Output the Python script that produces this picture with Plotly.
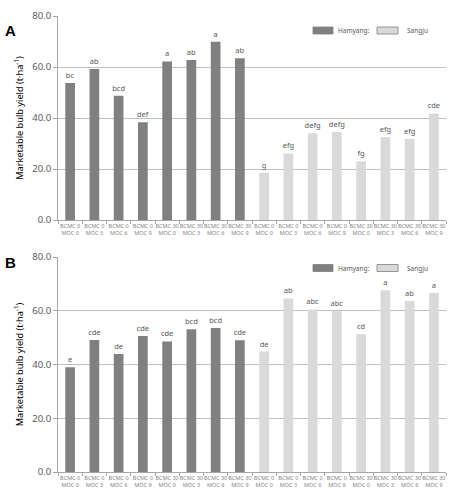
import plotly.graph_objects as go

categories = ["BCMC 0<br>MOC 0", "BCMC 0<br>MOC 3", "BCMC 0<br>MOC 6", "BCMC 0<br>MOC 9",
              "BCMC 30<br>MOC 0", "BCMC 30<br>MOC 3", "BCMC 30<br>MOC 6", "BCMC 30<br>MOC 9"]
ham_x = [f"H{i}" for i in range(8)]
san_x = [f"S{i}" for i in range(8)]
tick_vals = ham_x + san_x
tick_text = categories + categories

a_hamyang = [53.7, 59.2, 48.7, 38.3, 62.2, 62.7, 69.9, 63.4]
a_sangju = [18.5, 26.1, 34.0, 34.5, 23.0, 32.5, 31.8, 41.8]
a_ham_lbl = ["bc", "ab", "bcd", "def", "a", "ab", "a", "ab"]
a_san_lbl = ["g", "efg", "defg", "defg", "fg", "efg", "efg", "cde"]

b_hamyang = [39.0, 49.1, 43.9, 50.6, 48.6, 53.1, 53.6, 49.0]
b_sangju = [44.8, 64.6, 60.5, 59.8, 51.3, 67.6, 63.6, 66.6]
b_ham_lbl = ["e", "cde", "de", "cde", "cde", "bcd", "bcd", "cde"]
b_san_lbl = ["de", "ab", "abc", "abc", "cd", "a", "ab", "a"]

series_names = ["Hamyang:", "Sangju"]
y_ticks = [0, 20, 40, 60, 80]

DARK = "#808080"
LIGHT = "#d9d9d9"
FONT = "Noto Sans"
W, H = 452, 495

fig = go.Figure()

panels = [
    ("x", "y", a_hamyang, a_sangju, a_ham_lbl, a_san_lbl),
    ("x2", "y2", b_hamyang, b_sangju, b_ham_lbl, b_san_lbl),
]
for xa, ya, hv, sv, hl, sl in panels:
    for xs, vals, lbls, col, name in [(ham_x, hv, hl, DARK, series_names[0]),
                                      (san_x, sv, sl, LIGHT, series_names[1])]:
        fig.add_trace(go.Bar(
            x=xs, y=vals, text=lbls, textposition="outside", cliponaxis=False,
            constraintext="none",
            textfont=dict(size=7.5, color="#595959", family=FONT),
            marker=dict(color=col, line=dict(width=0)), width=0.4,
            name=name, showlegend=False, xaxis=xa, yaxis=ya))

xdom = [58 / W, 446 / W]
ydomA = [1 - 220 / H, 1 - 16 / H]
ydomB = [1 - 472 / H, 1 - 257 / H]

xcommon = dict(type="category", categoryorder="array", categoryarray=tick_vals,
               tickvals=tick_vals, ticktext=tick_text, tickson="boundaries",
               ticks="outside", ticklen=3, tickcolor="#a6a6a6",
               showline=True, linecolor="#a6a6a6", linewidth=1, showgrid=False,
               tickfont=dict(size=5.5, color="#7f7f7f", family=FONT),
               tickangle=0, domain=xdom, range=[-0.5, 15.5], automargin=False)
ycommon = dict(range=[0, 80], tickvals=y_ticks, ticktext=[f"{v:.1f}" for v in y_ticks],
               showgrid=True, gridcolor="#bfbfbf", gridwidth=1,
               showline=True, linecolor="#a6a6a6", linewidth=1,
               ticks="outside", ticklen=4, tickcolor="#a6a6a6",
               tickfont=dict(size=9.5, color="#595959", family=FONT),
               zeroline=False, automargin=False,
               title=dict(text="Marketable bulb yield (t·ha<sup>-1</sup>)",
                          font=dict(size=9.2, color="#000000", family=FONT), standoff=7))

fig.update_layout(
    width=W, height=H, margin=dict(l=0, r=0, t=0, b=0, autoexpand=False),
    paper_bgcolor="white", plot_bgcolor="white", bargap=0.6,
    xaxis=dict(**xcommon, anchor="y"),
    xaxis2=dict(**xcommon, anchor="y2"),
    yaxis=dict(**ycommon, domain=ydomA, anchor="x"),
    yaxis2=dict(**ycommon, domain=ydomB, anchor="x2"),
    font=dict(family=FONT),
)

# Panel letters
for letter, ypx in [("A", 31), ("B", 262)]:
    fig.add_annotation(text="<b>" + letter + "</b>", x=10 / W, y=1 - ypx / H, xref="paper", yref="paper",
                       showarrow=False, font=dict(size=15, color="black", family="Liberation Sans"),
                       xanchor="center", yanchor="middle")

# Legends
for ypx in [30.5, 268]:
    yc = 1 - ypx / H
    hh = 3.5 / H
    for x0, x1, col, tx, name in [(313, 333, DARK, 336, series_names[0]), (377, 398, LIGHT, 405, series_names[1])]:
        fig.add_shape(type="rect", xref="paper", yref="paper", x0=x0 / W, x1=x1 / W, y0=yc - hh, y1=yc + hh,
                      fillcolor=col, line=dict(color="#7f7f7f", width=0.8))
        fig.add_annotation(text=name, x=tx / W, y=yc, xref="paper", yref="paper", showarrow=False,
                           xanchor="left", yanchor="middle", font=dict(size=6.5, color="#595959", family=FONT))

fig.write_html("out.html")
